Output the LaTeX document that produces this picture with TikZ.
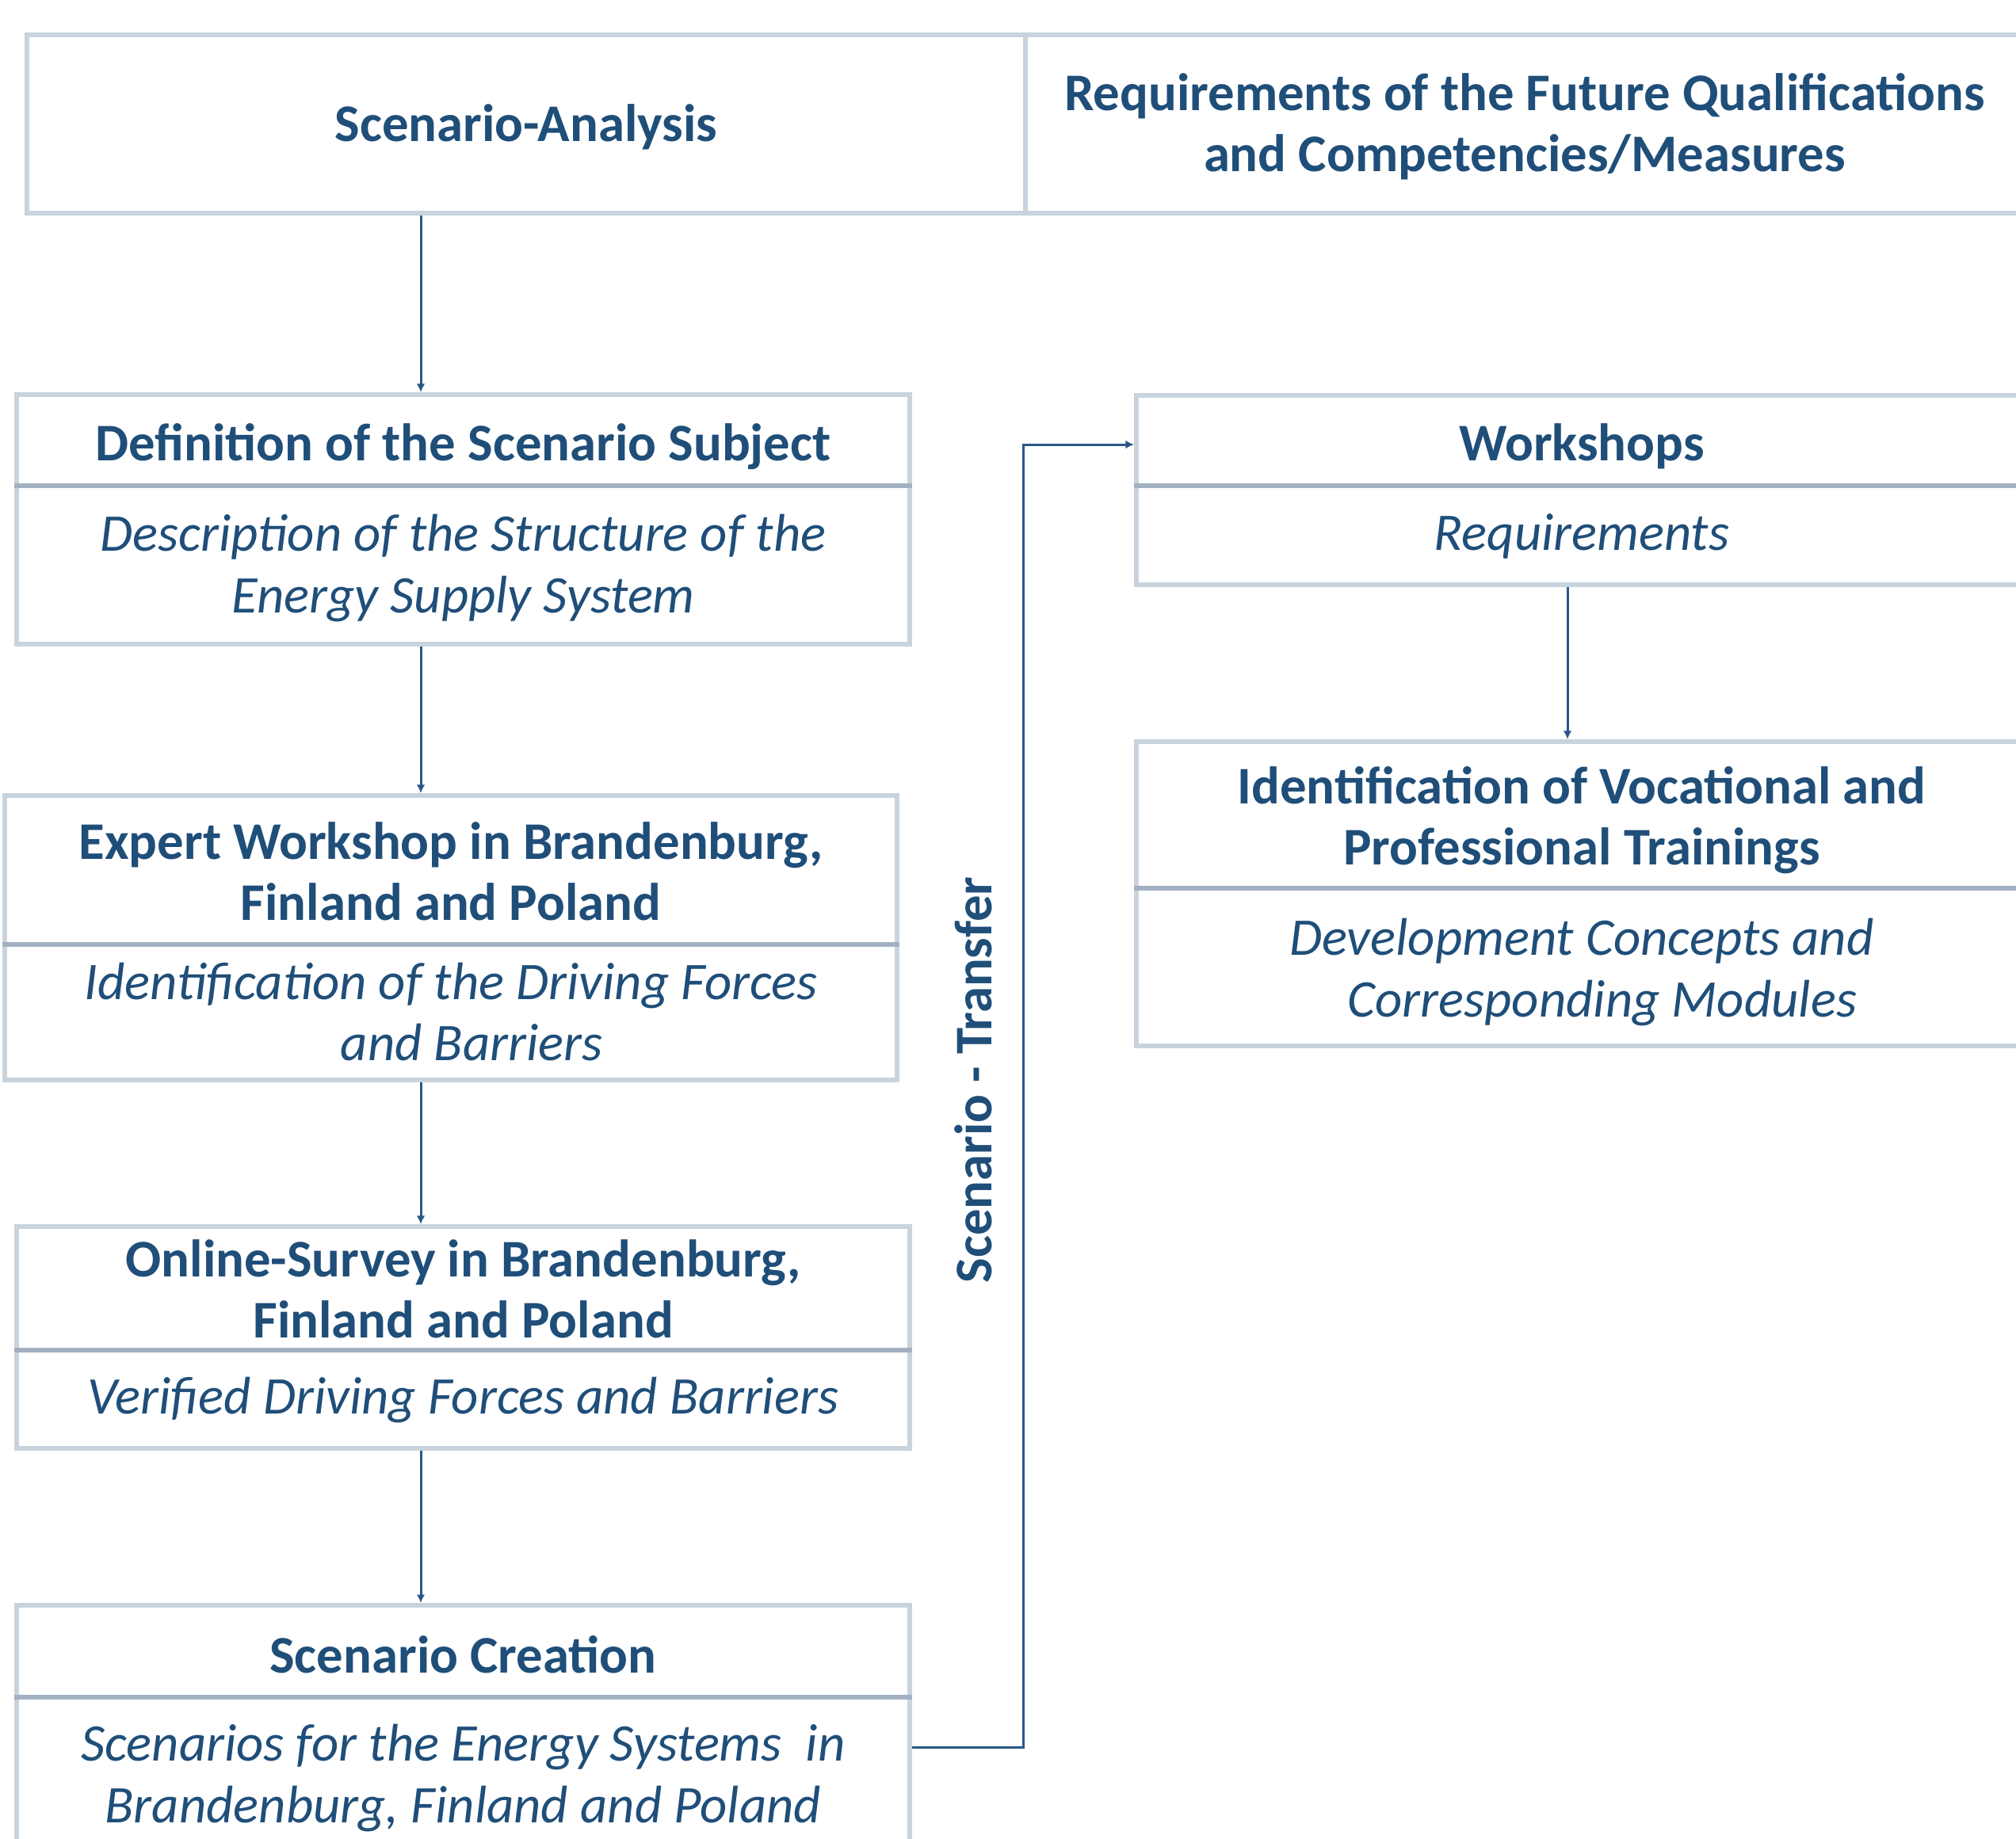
\documentclass[tikz,border=0pt]{standalone}
\usepackage{fontspec}
\setmainfont{Carlito}
\usetikzlibrary{arrows.meta}
\definecolor{textblue}{HTML}{1F4E79}
\definecolor{linkblue}{HTML}{2A5788}
\definecolor{boxgray}{HTML}{C9D3DD}
\definecolor{divgray}{HTML}{A2B1C1}
\tikzset{
	box/.style={draw=boxgray, line width=1.7pt, anchor=north west, inner sep=0pt},
	divider/.style={draw=divgray, line width=1.7pt},
	title/.style={text=textblue, font=\bfseries\fontsize{19}{22}\selectfont, align=center},
	subtitle/.style={text=textblue, font=\itshape\fontsize{19}{22}\selectfont, align=center},
	flow/.style={draw=linkblue, line width=0.85pt, -{Latex[length=3pt,width=3pt]}}
}
\begin{document}
\begin{tikzpicture}[x=1cm,y=-1cm]
		\useasboundingbox (0,0) rectangle (25.44,23.20);
		\clip (0,0) rectangle (25.44,23.20);
		\node[box, minimum width=12.60cm, minimum height=2.25cm] (analysis) at (0.31,0.41) {};
		\node[box, minimum width=12.64cm, minimum height=2.25cm] (requirements) at (12.91,0.41) {};
		\node[box, minimum width=11.27cm, minimum height=3.15cm] (definition) at (0.18,4.95) {};
		\node[box, minimum width=11.26cm, minimum height=3.59cm] (expert) at (0.03,10.01) {};
		\node[box, minimum width=11.27cm, minimum height=2.80cm] (survey) at (0.18,15.45) {};
		\node[box, minimum width=11.27cm, minimum height=3.17cm] (creation) at (0.18,20.23) {};
		\node[box, minimum width=11.24cm, minimum height=2.39cm] (workshops) at (14.31,4.96) {};
		\node[box, minimum width=11.24cm, minimum height=3.84cm] (training) at (14.31,9.33) {};
		\draw[divider] (definition.west |- 0,6.13) -- (definition.east |- 0,6.13);
		\draw[divider] (expert.west |- 0,11.92) -- (expert.east |- 0,11.92);
		\draw[divider] (survey.west |- 0,17.04) -- (survey.east |- 0,17.04);
		\draw[divider] (creation.west |- 0,21.42) -- (creation.east |- 0,21.42);
		\draw[divider] (workshops.west |- 0,6.13) -- (workshops.east |- 0,6.13);
		\draw[divider] (training.west |- 0,11.21) -- (training.east |- 0,11.21);
		\node[title] (analysis-t) at (analysis.north |- 0,1.60) {Scenario-Analysis};
		\node[title] (requirements-t) at (19.24,1.60) {Requirements of the Future Qualifications\\and Competencies/Measures};
		\node[title] (definition-t) at (definition.north |- 0,5.64) {Definition of the Scenario Subject};
		\node[subtitle] (definition-s) at (definition.north |- 0,7.17) {Description of the Structure of the\\Energy Supply System};
		\node[title] (expert-t) at (expert.north |- 0,11.00) {Expert Workshop in Brandenburg,\\Finland and Poland};
		\node[subtitle] (expert-s) at (expert.north |- 0,12.77) {Identification of the Driving Forces\\\hspace*{0.52cm}and Barriers};
		\node[title] (survey-t) at (survey.north |- 0,16.27) {Online-Survey in Brandenburg,\\Finland and Poland};
		\node[subtitle] (survey-s) at (survey.north |- 0,17.67) {Verified Driving Forces and Barriers};
		\node[title] (creation-t) at (creation.north |- 0,20.88) {Scenario Creation};
		\node[subtitle] (creation-s) at (creation.north |- 0,22.44) {Scenarios for the Energy Systems\ \ in\\Brandenburg, Finland and Poland};
		\node[title] (workshops-t) at (workshops.north |- 0,5.63) {Workshops};
		\node[subtitle] (workshops-s) at (workshops.north |- 0,6.77) {Requirements};
		\node[title] (training-t) at (training.north |- 0,10.35) {Identification of Vocational and\\Professional Trainings};
		\node[subtitle] (training-s) at (training.north |- 0,12.27) {Development Concepts and\\\hspace*{0.52cm}Corresponding Modules};
		\node[title, rotate=90] (transfer) at (12.28,13.63) {Scenario - Transfer};
		\coordinate (leftcol) at (5.31,0);
		\coordinate (rightcol) at (19.78,0);
		\coordinate (bend) at (12.91,0);
		\draw[flow] (analysis.south -| leftcol) -- (definition.north -| leftcol);
		\draw[flow] (definition.south -| leftcol) -- (expert.north -| leftcol);
		\draw[flow] (expert.south -| leftcol) -- (survey.north -| leftcol);
		\draw[flow] (survey.south -| leftcol) -- (creation.north -| leftcol);
		\draw[flow] (workshops.south -| rightcol) -- (training.north -| rightcol);
		\draw[flow] (creation.east |- 0,22.05) -- (bend |- 0,22.05) -- (bend |- 0,5.61) -- (workshops.west |- 0,5.61);
	\end{tikzpicture}
\end{document}
